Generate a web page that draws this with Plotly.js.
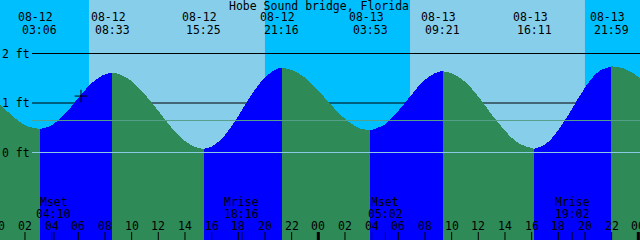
<!DOCTYPE html>
<html>
<head>
<meta charset="utf-8">
<script src="https://cdn.plot.ly/plotly-3.0.1.min.js"></script>
<style>
  html, body { margin: 0; padding: 0; background: #00BFFF; }
  #chart { width: 640px; height: 240px; }
  .js-plotly-plot .scatterlayer .js-fill { shape-rendering: crispEdges; }
</style>
</head>
<body>
<div id="chart"></div>
<script>
// ---- Data (hours counted from 08-12 00:00) ----
const title = 'Hobe Sound bridge, Florida';

const tideTimes   = [3.1, 8.55, 15.417, 21.267, 27.883, 33.35, 40.183, 45.983];
const tideHeights = [0.475, 1.606, 0.077, 1.707, 0.449, 1.64, 0.077, 1.74];
const tideDates   = ['08-12', '08-12', '08-12', '08-12', '08-13', '08-13', '08-13', '08-13'];
const tideClock   = ['03:06', '08:33', '15:25', '21:16', '03:53', '09:21', '16:11', '21:59'];

const curveTimes = [-1, 0, 1, 2, 3.1, 4, 5, 6, 7, 8, 8.55, 9, 10, 11, 12, 13, 14, 15, 15.417, 16,
  17, 18, 19, 20, 21, 21.267, 22, 23, 24, 25, 26, 27, 27.883, 29, 30, 31, 32, 33, 33.35, 34,
  35, 36, 37, 38, 39, 40.183, 41, 42, 43, 44, 45, 45.983, 47, 48, 49];
const curveHeights = [1.28, 1.01, 0.75, 0.55, 0.475, 0.55, 0.78, 1.10, 1.40, 1.58, 1.606, 1.59, 1.44, 1.17, 0.84, 0.50, 0.23, 0.09, 0.077, 0.12,
  0.35, 0.74, 1.17, 1.52, 1.70, 1.707, 1.67, 1.51, 1.25, 0.95, 0.68, 0.50, 0.449, 0.57, 0.84, 1.17, 1.47, 1.63, 1.64, 1.60,
  1.43, 1.13, 0.77, 0.44, 0.19, 0.077, 0.16, 0.45, 0.87, 1.31, 1.63, 1.74, 1.69, 1.53, 1.29];

const sunriseTimes = [6.8, 30.88];
const sunsetTimes  = [20.0, 44.0];

const moonTimes = [4.167, 18.267, 29.033, 43.033];
const moonEvent = ['Mset', 'Mrise', 'Mset', 'Mrise'];
const moonClock = ['04:10', '18:16', '05:02', '19:02'];

const depthLevels = [2, 1, 0];
const depthLabels = ['2 ft', '1 ft', '0 ft'];
const meanLevel = 0.646;

const nowTime = [6.2];
const nowHeight = [1.14];

const hourTicks  = [0, 2, 4, 6, 8, 10, 12, 14, 16, 18, 20, 22, 24, 26, 28, 30, 32, 34, 36, 38, 40, 42, 44, 46, 48];
const hourLabels = ['00', '02', '04', '06', '08', '10', '12', '14', '16', '18', '20', '22',
  '00', '02', '04', '06', '08', '10', '12', '14', '16', '18', '20', '22', '00'];
const midnightTicks = [0, 24, 48];

// ---- Styles ----
const NIGHT = '#00BFFF', DAY = '#87CEEB', FLOOD = '#0000FF', EBB = '#2E8B57';
const FONT = 'DejaVu Sans Mono';
const FS = 11.5;
const XMIN = 0.1275, XMAX = 48.1275;
const YMIN = -1.768, YMAX = 3.081;
const PX_W = 640, PX_H = 240;
const PX_PER_HOUR = PX_W / (XMAX - XMIN);
const py = p => 1 - p / PX_H; // pixel row -> paper y

// ---- Water segments between extrema ----
const bounds = [curveTimes[0]].concat(tideTimes, [curveTimes[curveTimes.length - 1]]);
const traces = [];
for (let i = 0; i < bounds.length - 1; i++) {
  const a = bounds[i], b = bounds[i + 1];
  const xs = [], ys = [];
  curveTimes.forEach((t, k) => { if (t >= a - 1e-9 && t <= b + 1e-9) { xs.push(t); ys.push(curveHeights[k]); } });
  const rising = ys[ys.length - 1] > ys[0];
  traces.push({ x: [a, b], y: [YMIN - 0.5, YMIN - 0.5], mode: 'lines', line: { width: 0 }, hoverinfo: 'skip', showlegend: false });
  traces.push({ x: xs, y: ys, mode: 'lines', fill: 'tonexty', fillcolor: rising ? FLOOD : EBB,
    line: { width: 0, shape: 'spline', smoothing: 1 }, hoverinfo: 'skip', showlegend: false });
}
traces.push({ x: nowTime, y: nowHeight, mode: 'markers',
  marker: { symbol: 'cross-thin', size: 9, line: { color: '#000', width: 1 } }, showlegend: false });

// ---- Shapes ----
const shapes = [];
sunriseTimes.forEach((t, i) => shapes.push({ type: 'rect', layer: 'below', xref: 'x', yref: 'paper',
  x0: t, x1: sunsetTimes[i], y0: 0, y1: 1, fillcolor: DAY, line: { width: 0 } }));
[2, 1].forEach(v => shapes.push({ type: 'line', layer: 'below', xref: 'paper', yref: 'y',
  x0: 32 / PX_W, x1: 1, y0: v, y1: v, line: { color: '#000', width: 1 } }));
shapes.push({ type: 'line', layer: 'above', xref: 'paper', yref: 'y', x0: 32 / PX_W, x1: 1,
  y0: meanLevel, y1: meanLevel, line: { color: '#55a08a', width: 1 } });
shapes.push({ type: 'line', layer: 'above', xref: 'paper', yref: 'y', x0: 32 / PX_W, x1: 1,
  y0: 0, y1: 0, line: { color: '#8ccbe6', width: 1 } });
hourTicks.forEach(t => shapes.push({ type: 'line', layer: 'above', xref: 'x', yref: 'paper',
  x0: t, x1: t, y0: 0, y1: 8 / PX_H, line: { color: '#000', width: midnightTicks.includes(t) ? 3 : 1 } }));
moonTimes.forEach(t => shapes.push({ type: 'line', layer: 'above', xref: 'x', yref: 'paper',
  x0: t, x1: t, y0: 0, y1: 8 / PX_H, line: { color: '#000', width: 1 } }));

// ---- Text ----
const ann = [];
const txt = (x, xref, y, text, xanchor, xshift) => {
  // keep labels whose anchor falls just before the axis start: anchor at the start, shift back
  let shift = xshift || 0;
  if (xref === 'x' && x < XMIN) { shift += (x - XMIN) * PX_PER_HOUR; x = XMIN; }
  ann.push({ x, xref, y: py(y), yref: 'paper', text,
    showarrow: false, xanchor: xanchor || 'center', yanchor: 'middle', xshift: shift,
    font: { family: FONT, size: FS, color: '#000' }, borderpad: 0 });
};
txt(0.498, 'paper', 6, title);
tideTimes.forEach((t, i) => { txt(t, 'x', 17, tideDates[i], 'center', -4); txt(t, 'x', 29.5, tideClock[i]); });
depthLevels.forEach((v, i) => txt(1 / PX_W, 'paper', 152.5 - 49.5 * v, depthLabels[i], 'left'));
moonTimes.forEach((t, i) => { txt(t, 'x', 201.5, moonEvent[i]); txt(t, 'x', 213.5, moonClock[i]); });
hourTicks.forEach((t, i) => txt(t, 'x', 226, hourLabels[i]));

const layout = {
  width: PX_W, height: PX_H, margin: { l: 0, r: 0, t: 0, b: 0, pad: 0 },
  paper_bgcolor: NIGHT, plot_bgcolor: NIGHT, showlegend: false,
  xaxis: { range: [XMIN, XMAX], visible: false, fixedrange: true },
  yaxis: { range: [YMIN, YMAX], visible: false, fixedrange: true },
  shapes, annotations: ann
};
Plotly.newPlot('chart', traces, layout, { staticPlot: true, displayModeBar: false });
</script>
</body>
</html>
